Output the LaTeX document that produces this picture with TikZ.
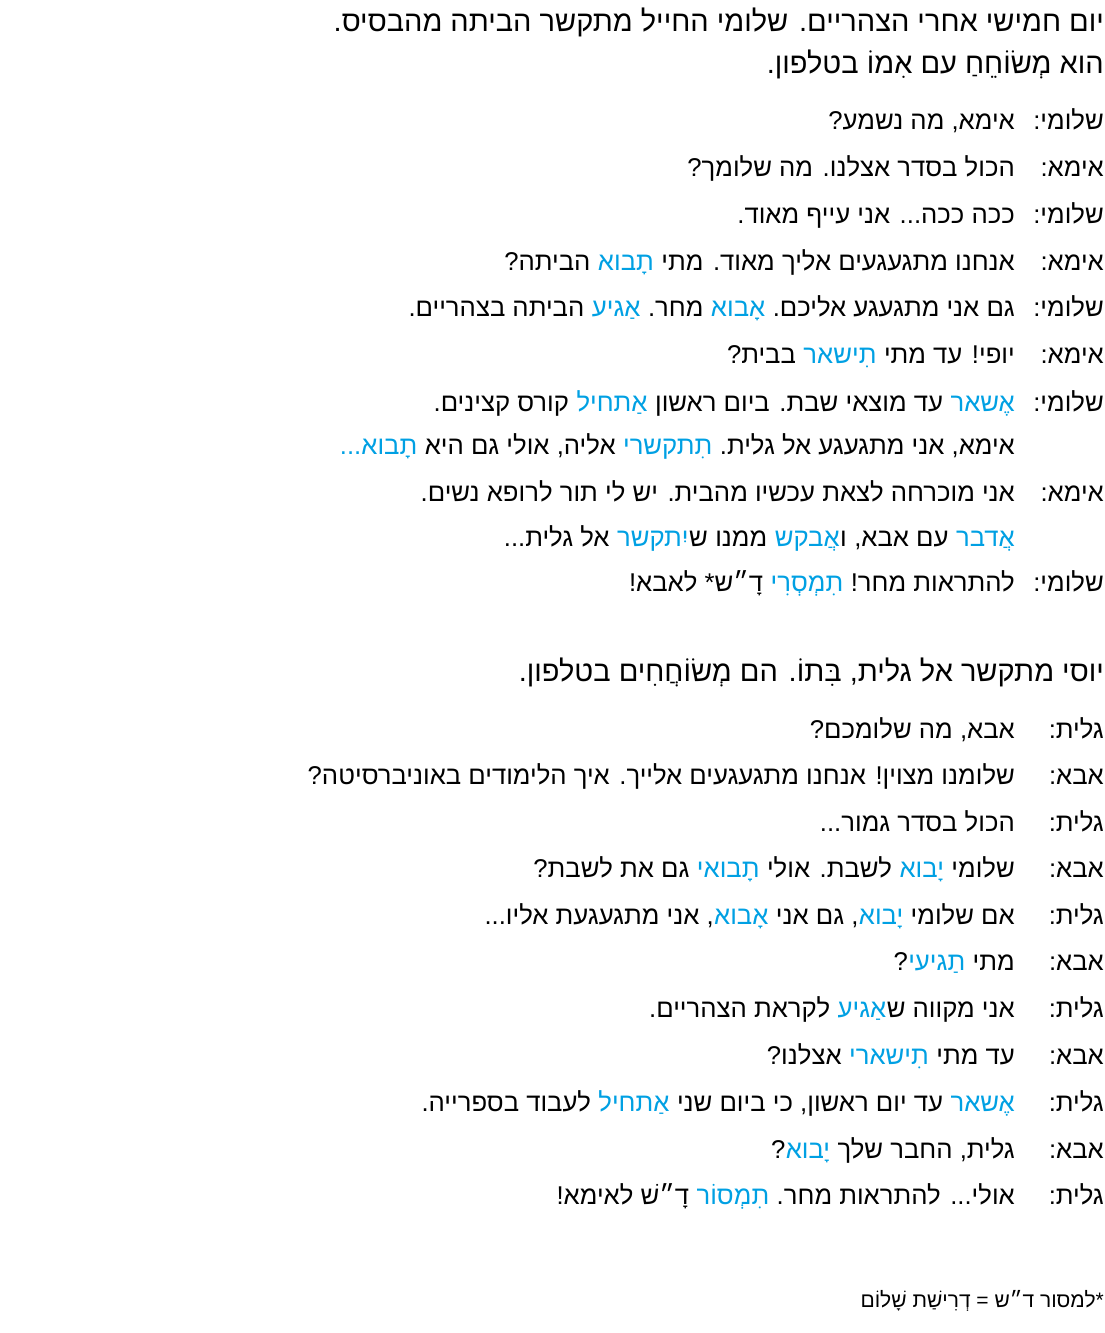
\documentclass[tikz,border=0pt]{standalone}
\usepackage{fontspec}
\usepackage{xcolor}
\TeXXeTstate=1
\newfontfamily\heb[Script=Hebrew]{Liberation Sans}
\definecolor{hl}{RGB}{0,160,227}
\tikzset{
  lab/.style={anchor=base east, inner sep=0pt, font=\heb\fontsize{25.7}{30}\selectfont},
  txt/.style={anchor=base east, inner sep=0pt, font=\heb\fontsize{25.7}{30}\selectfont},
  ttl/.style={anchor=base east, inner sep=0pt, font=\heb\fontsize{29}{34}\selectfont},
  fn/.style={anchor=base east, inner sep=0pt, font=\heb\fontsize{21}{26}\selectfont},
  blu/.style={text=hl}, k/.style={}
}
\newcommand\sg[5]{\node[txt,#1] (#2) at ([xshift=-#3]#4.base west) {\beginR #5\endR};}
\def\g{7.1pt}\def\z{0pt}
\begin{document}
\begin{tikzpicture}[x=1pt,y=1pt]
\useasboundingbox (0,0) rectangle (1104,-1333);
\def\R{1104}\def\T{1015}
\node[ttl] (t1) at (\R,-31) {\beginR יום חמישי אחרי הצהריים. שלומי החייל מתקשר הביתה מהבסיס.\endR};
\node[ttl] (t2) at (\R,-73) {\beginR הוא מְשׂוֹחֵחַ עם אִמוֹ בטלפון.\endR};

\node[lab] (a1) at (\R,-129) {\beginR שלומי:\endR};
\node[txt] (b1) at (\T,-129) {\beginR אימא, מה נשמע?\endR};
\node[lab] (a2) at (\R,-176) {\beginR אימא:\endR};
\node[txt] (b2) at (\T,-176) {\beginR הכול בסדר אצלנו. מה שלומך?\endR};
\node[lab] (a3) at (\R,-223) {\beginR שלומי:\endR};
\node[txt] (b3) at (\T,-223) {\beginR ככה ככה... אני עייף מאוד.\endR};
\node[lab] (a4) at (\R,-270) {\beginR אימא:\endR};
\node[txt] (b4) at (\T,-270) {\beginR אנחנו מתגעגעים אליך מאוד. מתי\endR};
\sg{blu}{b4a}{\g}{b4}{תָבוא}
\sg{k}{b4b}{\g}{b4a}{הביתה?}
\node[lab] (a5) at (\R,-316) {\beginR שלומי:\endR};
\node[txt] (b5) at (\T,-316) {\beginR גם אני מתגעגע אליכם.\endR};
\sg{blu}{b5a}{\g}{b5}{אָבוא}
\sg{k}{b5b}{\g}{b5a}{מחר.}
\sg{blu}{b5c}{\g}{b5b}{אַגיע}
\sg{k}{b5d}{\g}{b5c}{הביתה בצהריים.}
\node[lab] (a6) at (\R,-363) {\beginR אימא:\endR};
\node[txt] (b6) at (\T,-363) {\beginR יופי! עד מתי\endR};
\sg{blu}{b6a}{\g}{b6}{תִישאר}
\sg{k}{b6b}{\g}{b6a}{בבית?}
\node[lab] (a7) at (\R,-411) {\beginR שלומי:\endR};
\node[txt,blu] (b7) at (\T,-411) {\beginR אֶשאר\endR};
\sg{k}{b7a}{\g}{b7}{עד מוצאי שבת. ביום ראשון}
\sg{blu}{b7b}{\g}{b7a}{אַתחיל}
\sg{k}{b7c}{\g}{b7b}{קורס קצינים.}
\node[txt] (e7) at (\T,-454) {\beginR אימא, אני מתגעגע אל גלית.\endR};
\sg{blu}{e7a}{\g}{e7}{תִתקשרי}
\sg{k}{e7b}{\g}{e7a}{אליה, אולי גם היא}
\sg{blu}{e7c}{\g}{e7b}{תָבוא...}
\node[lab] (a8) at (\R,-501) {\beginR אימא:\endR};
\node[txt] (b8) at (\T,-501) {\beginR אני מוכרחה לצאת עכשיו מהבית. יש לי תור לרופא נשים.\endR};
\node[txt,blu] (e8) at (\T,-546) {\beginR אֲדבר\endR};
\sg{k}{e8a}{\g}{e8}{עם אבא,}
\sg{k}{e8b}{\g}{e8a}{ו}
\sg{blu}{e8c}{\z}{e8b}{אֲבקש}
\sg{k}{e8d}{\g}{e8c}{ממנו}
\sg{k}{e8e}{\g}{e8d}{ש}
\sg{blu}{e8f}{\z}{e8e}{יִתקשר}
\sg{k}{e8g}{\g}{e8f}{אל גלית...}
\node[lab] (a9) at (\R,-591) {\beginR שלומי:\endR};
\node[txt] (b9) at (\T,-591) {\beginR להתראות מחר!\endR};
\sg{blu}{b9a}{\g}{b9}{תִמְסְרִי}
\sg{k}{b9b}{\g}{b9a}{דָ״ש* לאבא!}

\node[ttl] (t3) at (\R,-681) {\beginR יוסי מתקשר אל גלית, בִּתוֹ. הם מְשׂוֹחֲחִים בטלפון.\endR};

\node[lab] (c1) at (\R,-738) {\beginR גלית:\endR};
\node[txt] (d1) at (\T,-738) {\beginR אבא, מה שלומכם?\endR};
\node[lab] (c2) at (\R,-784) {\beginR אבא:\endR};
\node[txt] (d2) at (\T,-784) {\beginR שלומנו מצוין! אנחנו מתגעגעים אלייך. איך הלימודים באוניברסיטה?\endR};
\node[lab] (c3) at (\R,-831) {\beginR גלית:\endR};
\node[txt] (d3) at (\T,-831) {\beginR הכול בסדר גמור...\endR};
\node[lab] (c4) at (\R,-877) {\beginR אבא:\endR};
\node[txt] (d4) at (\T,-877) {\beginR שלומי\endR};
\sg{blu}{d4a}{\g}{d4}{יָבוא}
\sg{k}{d4b}{\g}{d4a}{לשבת. אולי}
\sg{blu}{d4c}{\g}{d4b}{תָבואי}
\sg{k}{d4d}{\g}{d4c}{גם את לשבת?}
\node[lab] (c5) at (\R,-924) {\beginR גלית:\endR};
\node[txt] (d5) at (\T,-924) {\beginR אם שלומי\endR};
\sg{blu}{d5a}{\g}{d5}{יָבוא}
\sg{k}{d5b}{\z}{d5a}{, גם אני}
\sg{blu}{d5c}{\g}{d5b}{אָבוא}
\sg{k}{d5d}{\z}{d5c}{, אני מתגעגעת אליו...}
\node[lab] (c6) at (\R,-970) {\beginR אבא:\endR};
\node[txt] (d6) at (\T,-970) {\beginR מתי\endR};
\sg{blu}{d6a}{\g}{d6}{תַגיעי}
\sg{k}{d6b}{\z}{d6a}{?}
\node[lab] (c7) at (\R,-1017) {\beginR גלית:\endR};
\node[txt] (d7) at (\T,-1017) {\beginR אני מקווה ש\endR};
\sg{blu}{d7a}{\z}{d7}{אַגיע}
\sg{k}{d7b}{\g}{d7a}{לקראת הצהריים.}
\node[lab] (c8) at (\R,-1064) {\beginR אבא:\endR};
\node[txt] (d8) at (\T,-1064) {\beginR עד מתי\endR};
\sg{blu}{d8a}{\g}{d8}{תִישארי}
\sg{k}{d8b}{\g}{d8a}{אצלנו?}
\node[lab] (c9) at (\R,-1111) {\beginR גלית:\endR};
\node[txt,blu] (d9) at (\T,-1111) {\beginR אֶשאר\endR};
\sg{k}{d9a}{\g}{d9}{עד יום ראשון, כי ביום שני}
\sg{blu}{d9b}{\g}{d9a}{אַתחיל}
\sg{k}{d9c}{\g}{d9b}{לעבוד בספרייה.}
\node[lab] (c10) at (\R,-1158) {\beginR אבא:\endR};
\node[txt] (d10) at (\T,-1158) {\beginR גלית, החבר שלך\endR};
\sg{blu}{d10a}{\g}{d10}{יָבוא}
\sg{k}{d10b}{\z}{d10a}{?}
\node[lab] (c11) at (\R,-1204) {\beginR גלית:\endR};
\node[txt] (d11) at (\T,-1204) {\beginR אולי... להתראות מחר.\endR};
\sg{blu}{d11a}{\g}{d11}{תִמְסוֹר}
\sg{k}{d11b}{\g}{d11a}{דָ״שׁ לאימא!}

\node[fn] (f1) at (\R,-1307) {\beginR *למסור ד״ש = דְרִישַׁת שָׁלוֹם\endR};
\end{tikzpicture}
\end{document}
